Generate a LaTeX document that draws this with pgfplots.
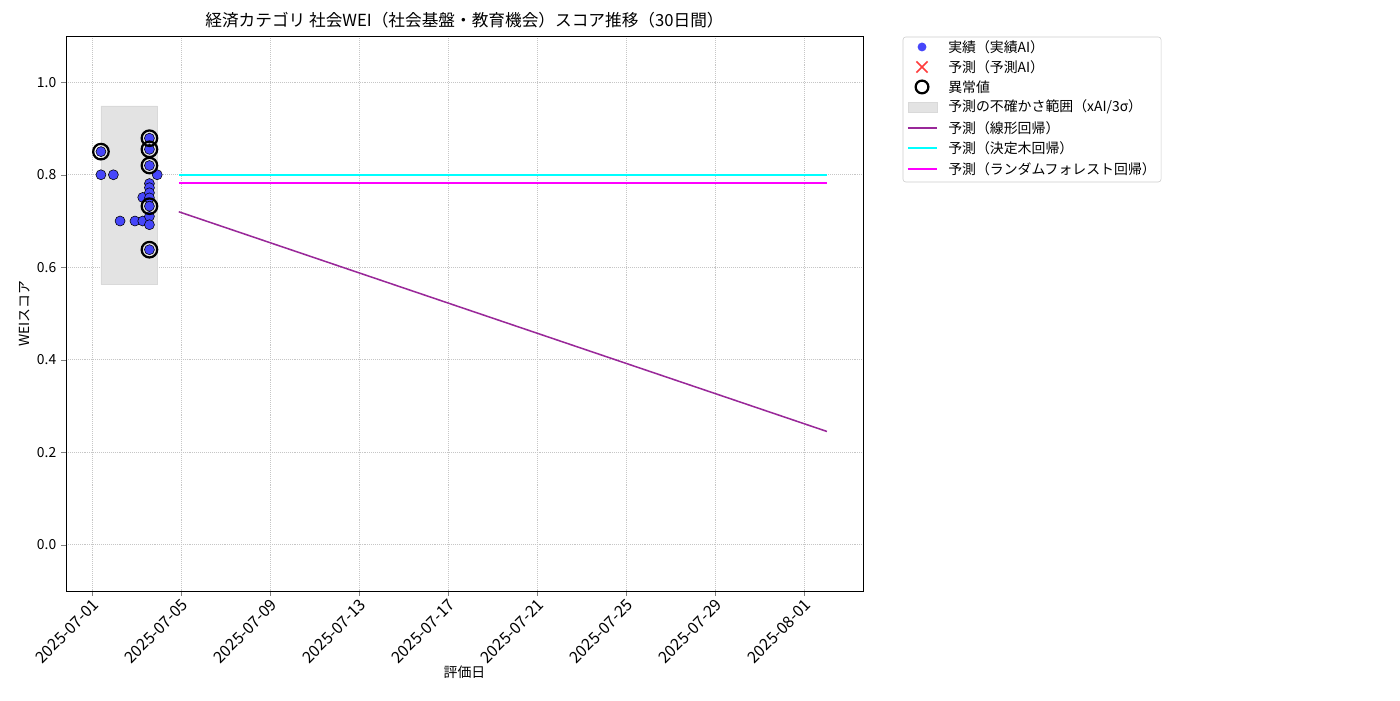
\documentclass[border=0pt]{standalone}
\usepackage{pgfplots}
\pgfplotsset{compat=1.18}
\usepackage{fontspec}
\setmainfont{Noto Sans CJK JP}
\definecolor{actblue}{RGB}{70,70,250}
\definecolor{linpurple}{RGB}{153,40,153}
\definecolor{dtcyan}{RGB}{0,255,255}
\definecolor{rfpink}{RGB}{255,0,255}
\definecolor{xred}{RGB}{255,60,60}
\begin{document}
\begin{tikzpicture}
\begin{axis}[
    name=main,
    scale only axis,
    width=573.8pt, height=399.6pt,
    xmin=-1.17, xmax=34.65,
    ymin=-0.1, ymax=1.1,
    xtick={0,4,...,32},
    xticklabels={2025-07-01,2025-07-05,2025-07-09,2025-07-13,2025-07-17,2025-07-21,2025-07-25,2025-07-29,2025-08-01},
    xticklabel style={rotate=45, anchor=north east, inner sep=1pt, font=\fontsize{11.5}{13}\selectfont},
    ytick={0,0.2,...,1.0},
    yticklabel style={/pgf/number format/.cd, fixed, fixed zerofill, precision=1},
    /pgf/number format/assume math mode=true,
    tick align=outside, tick pos=left,
    major tick length=3.5pt,
    grid=major,
    grid style={densely dotted, gray!45, line width=0.5pt},
    xlabel={評価日}, ylabel={WEIスコア},
    xlabel style={yshift=4pt},
    ylabel style={yshift=-2pt},
    title={経済カテゴリ 社会WEI（社会基盤・教育機会）スコア推移（30日間）},
    title style={font=\large, yshift=-4pt},
    tick label style={font=\normalsize},
    label style={font=\normalsize},
]
% uncertainty band
\addplot[fill=gray!22, draw=gray!30] coordinates {
    (0.40,0.563) (2.95,0.563) (2.95,0.949) (0.40,0.949) (0.40,0.563)};

% actual scores
\addplot[only marks, mark=*, mark size=3.6pt,
    mark options={draw=none, fill=actblue}] table {
x y
0.40 0.850
0.40 0.800
0.96 0.800
1.26 0.700
1.93 0.700
2.28 0.700
2.28 0.751
2.58 0.879
2.58 0.855
2.58 0.820
2.58 0.781
2.58 0.772
2.58 0.761
2.58 0.750
2.58 0.732
2.58 0.710
2.58 0.692
2.58 0.638
2.93 0.800
};

% outliers
\addplot[only marks, mark=o, mark size=5.6pt, black, line width=1.6pt] table {
x y
0.40 0.850
2.58 0.879
2.58 0.855
2.58 0.820
2.58 0.732
2.58 0.638
};

% forecasts
\addplot[draw=linpurple, line width=1.1pt, mark=none] coordinates {(3.9,0.720) (33.03,0.245)};
\addplot[draw=dtcyan, line width=1.1pt, mark=none] coordinates {(3.9,0.800) (33.03,0.800)};
\addplot[draw=rfpink, line width=1.1pt, mark=none] coordinates {(3.9,0.782) (33.03,0.782)};
\end{axis}

% legend, outside the axis on the right
\begin{scope}[shift={(main.north east)}, every node/.style={anchor=west, inner sep=0pt, font=\normalsize}]
  \draw[gray!40, rounded corners=2pt, fill=white] (28.8pt,-0.7pt) rectangle (214.6pt,-105.1pt);
  \fill[actblue] (42.5pt,-7.9pt) circle (3.2pt);
  \node at (61.2pt,-7.9pt) {実績（実績AI）};
  \draw[xred, line width=1.2pt] (38.5pt,-26.3pt) -- (46.5pt,-18.3pt) (38.5pt,-18.3pt) -- (46.5pt,-26.3pt);
  \node at (61.2pt,-22.3pt) {予測（予測AI）};
  \draw[black, line width=1.6pt] (42.5pt,-36.7pt) circle (4.6pt);
  \node at (61.2pt,-36.7pt) {異常値};
  \filldraw[fill=gray!22, draw=gray!30] (32.4pt,-47.5pt) rectangle (53.3pt,-54.7pt);
  \node at (61.2pt,-51.1pt) {予測の不確かさ範囲（xAI/3σ）};
  \draw[linpurple, line width=1.1pt] (32.4pt,-66.2pt) -- (53.3pt,-66.2pt);
  \node at (61.2pt,-66.2pt) {予測（線形回帰）};
  \draw[dtcyan, line width=1.1pt] (32.4pt,-80.6pt) -- (53.3pt,-80.6pt);
  \node at (61.2pt,-80.6pt) {予測（決定木回帰）};
  \draw[rfpink, line width=1.1pt] (32.4pt,-95.8pt) -- (53.3pt,-95.8pt);
  \node at (61.2pt,-95.8pt) {予測（ランダムフォレスト回帰）};
\end{scope}
\pgfresetboundingbox
\useasboundingbox ([xshift=-47.52pt, yshift=-78.48pt]main.south west) rectangle ([xshift=386.64pt, yshift=25.92pt]main.north east);
\end{tikzpicture}
\end{document}
